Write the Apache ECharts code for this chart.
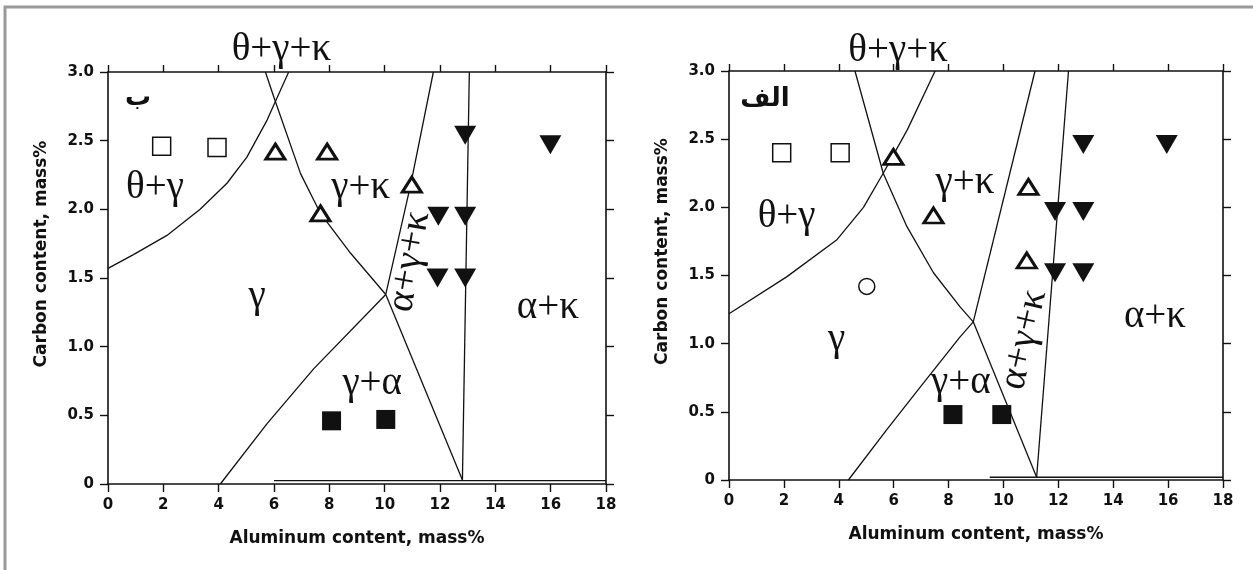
<!DOCTYPE html>
<html>
<head>
<meta charset="utf-8">
<script src="https://cdn.jsdelivr.net/npm/echarts@6/dist/echarts.min.js"></script>
<style>
html,body{margin:0;padding:0;background:#fff;}
#chart{width:1253px;height:570px;}
</style>
</head>
<body>
<div id="chart"></div>
<script>
// ---------- tick labels ----------
const xTickLabels = ['0','2','4','6','8','10','12','14','16','18'];
const yTickLabels = ['0','0.5','1.0','1.5','2.0','2.5','3.0'];
const xAxisTitle = 'Aluminum content, mass%';
const yAxisTitle = 'Carbon content, mass%';

// ---------- left panel (ب) : phase boundaries ----------
const bThetaGamma = [[0,1.57],[0.92,1.67],[2.13,1.81],[3.33,2.0],[4.30,2.19],[5.02,2.38],[5.75,2.65],[6.53,3.0]];
const bKappaUpper = [[5.69,3.0],[5.99,2.82],[6.96,2.26],[7.68,1.97],[8.77,1.68],[10.04,1.38]];
const bKappaLower = [[10.04,1.38],[12.81,0.03]];
const bAlphaLower = [[4.06,0],[5.75,0.44],[7.44,0.84],[10.04,1.38]];
const bAgkLeft    = [[10.04,1.38],[10.94,2.18],[11.76,3.0]];
const bAgkRight   = [[12.81,0.03],[13.06,3.0]];
const bBase       = [[6.0,0.025],[18,0.025]];
// left panel markers
const bOpenSquare   = [[1.94,2.46],[3.94,2.45]];
const bOpenTriangle = [[6.05,2.42],[7.92,2.42],[7.68,1.97],[10.98,2.18]];
const bFilledDown   = [[12.91,2.54],[15.99,2.47],[11.94,1.95],[12.91,1.95],[11.91,1.50],[12.91,1.50]];
const bFilledSquare = [[8.08,0.46],[10.04,0.47]];
// left panel region labels [text, x, y, rotate]
const bRegionLabels = [
  ['θ+γ+κ',6.27,3.16,0],['θ+γ',1.70,2.16,0],['γ+κ',9.13,2.16,0],['γ',5.39,1.36,0],
  ['α+γ+κ',10.9,1.62,80],['α+κ',15.9,1.28,0],['γ+α',9.55,0.73,0]
];
const bPanelTag = ['ب',1.09,2.81];

// ---------- right panel (الف) : phase boundaries ----------
const aThetaGamma = [[0,1.22],[2.1,1.49],[3.92,1.76],[4.9,2.0],[5.62,2.25],[6.5,2.57],[7.51,3.0]];
const aKappaUpper = [[4.59,3.0],[5.62,2.25],[6.48,1.86],[7.45,1.52],[8.42,1.27],[8.9,1.16]];
const aKappaLower = [[8.9,1.16],[11.21,0.02]];
const aAlphaLower = [[4.35,0],[5.75,0.37],[6.96,0.68],[8.42,1.05],[8.9,1.16]];
const aAgkLeft    = [[8.9,1.16],[11.15,3.0]];
const aAgkRight   = [[11.21,0.02],[12.37,3.0]];
const aBase       = [[9.5,0.02],[18,0.02]];
// right panel markers
const aOpenSquare   = [[1.92,2.40],[4.05,2.40]];
const aOpenTriangle = [[5.99,2.37],[7.45,1.94],[10.91,2.15],[10.85,1.61]];
const aOpenCircle   = [[5.02,1.42]];
const aFilledDown   = [[12.91,2.46],[15.95,2.46],[11.88,1.97],[12.91,1.97],[11.88,1.52],[12.91,1.52]];
const aFilledSquare = [[8.16,0.48],[9.94,0.48]];
const aRegionLabels = [
  ['θ+γ+κ',6.16,3.15,0],['θ+γ',2.10,1.93,0],['γ+κ',8.6,2.18,0],['γ',3.92,1.03,0],
  ['α+γ+κ',10.75,1.03,77],['α+κ',15.52,1.2,0],['γ+α',8.45,0.71,0]
];
const aPanelTag = ['الف',1.31,2.79];

// ---------- build ----------
const INK = '#111';
const axisFont = {fontFamily:'DejaVu Sans', fontWeight:'bold', fontSize:15, color:'#111'};
const nameFont = {fontFamily:'DejaVu Sans', fontWeight:'bold', fontSize:17, color:'#111'};

const grids = [
  {left:108, top:72, width:498, height:412},
  {left:729, top:71, width:494, height:409}
];

const xAxes = [], yAxes = [];
grids.forEach((g, gi) => {
  xAxes.push({
    gridIndex: gi, type:'value', min:0, max:18, interval:2, position:'bottom',
    axisLine:{onZero:false, lineStyle:{color:INK, width:1.6}},
    axisTick:{inside:false, length:8, lineStyle:{color:INK, width:1.4}},
    axisLabel:{...axisFont, margin:14, formatter:(v)=>xTickLabels[Math.round(v/2)]},
    splitLine:{show:false},
    name:xAxisTitle, nameLocation:'middle', nameGap:46, nameTextStyle:nameFont
  });
  xAxes.push({
    gridIndex: gi, type:'value', min:0, max:18, interval:2, position:'top',
    axisLine:{onZero:false, lineStyle:{color:INK, width:1.6}},
    axisTick:{inside:false, length:7, lineStyle:{color:INK, width:1.4}},
    axisLabel:{show:false}, splitLine:{show:false}
  });
  yAxes.push({
    gridIndex: gi, type:'value', min:0, max:3, interval:0.5, position:'left',
    axisLine:{onZero:false, lineStyle:{color:INK, width:1.6}},
    axisTick:{inside:false, length:8, lineStyle:{color:INK, width:1.4}},
    axisLabel:{...axisFont, margin:14, formatter:(v)=>yTickLabels[Math.round(v*2)]},
    splitLine:{show:false},
    name:yAxisTitle, nameLocation:'middle', nameGap:58, nameRotate:90,
    nameTextStyle:{...nameFont, padding:[0,0,0,48]}
  });
  yAxes.push({
    gridIndex: gi, type:'value', min:0, max:3, interval:0.5, position:'right',
    axisLine:{onZero:false, lineStyle:{color:INK, width:1.6}},
    axisTick:{inside:false, length:8, lineStyle:{color:INK, width:1.4}},
    axisLabel:{show:false}, splitLine:{show:false}
  });
});

function boundary(data, ax){
  return {type:'line', xAxisIndex:ax, yAxisIndex:ax, data:data, showSymbol:false, symbol:'none',
    smooth:false, silent:true, z:2, lineStyle:{color:INK, width:1.3}};
}
function markers(data, ax, kind){
  const s = {type:'scatter', xAxisIndex:ax, yAxisIndex:ax, data:data, silent:true, z:5, clip:false};
  if (kind==='openSquare'){ s.symbol='rect'; s.symbolSize=18; s.itemStyle={color:'#fff', borderColor:INK, borderWidth:1.5}; }
  if (kind==='openTri'){ s.symbol='triangle'; s.symbolSize=[19,15]; s.itemStyle={color:'#fff', borderColor:INK, borderWidth:3}; }
  if (kind==='openCircle'){ s.symbol='circle'; s.symbolSize=16; s.itemStyle={color:'#fff', borderColor:INK, borderWidth:1.5}; }
  if (kind==='filledDown'){ s.symbol='triangle'; s.symbolSize=[22,19]; s.symbolRotate=180; s.itemStyle={color:INK}; }
  if (kind==='filledSquare'){ s.symbol='rect'; s.symbolSize=19; s.itemStyle={color:INK}; }
  s.itemStyle.opacity = 1;
  return s;
}
function regionLabels(list, ax){
  return {type:'scatter', xAxisIndex:ax, yAxisIndex:ax, symbolSize:0, silent:true, clip:false, z:6,
    itemStyle:{opacity:1},
    data:list.map(l=>({name:l[0], value:[l[1],l[2]], label:{rotate:l[3]}})),
    label:{show:true, position:'inside', formatter:'{b}', fontFamily:'Liberation Serif', fontSize:39, color:INK}};
}
function tag(t, ax){
  return {type:'scatter', xAxisIndex:ax, yAxisIndex:ax, symbolSize:0, silent:true, clip:false, z:6,
    itemStyle:{opacity:1},
    data:[{name:t[0], value:[t[1],t[2]]}],
    label:{show:true, position:'inside', formatter:'{b}', fontFamily:'DejaVu Sans', fontWeight:'bold', fontSize:26, color:INK}};
}

const series = [
  boundary(bThetaGamma,0), boundary(bKappaUpper,0), boundary(bKappaLower,0),
  boundary(bAlphaLower,0), boundary(bAgkLeft,0), boundary(bAgkRight,0), boundary(bBase,0),
  markers(bOpenSquare,0,'openSquare'), markers(bOpenTriangle,0,'openTri'),
  markers(bFilledDown,0,'filledDown'), markers(bFilledSquare,0,'filledSquare'),
  regionLabels(bRegionLabels,0), tag(bPanelTag,0),
  boundary(aThetaGamma,2), boundary(aKappaUpper,2), boundary(aKappaLower,2),
  boundary(aAlphaLower,2), boundary(aAgkLeft,2), boundary(aAgkRight,2), boundary(aBase,2),
  markers(aOpenSquare,2,'openSquare'), markers(aOpenTriangle,2,'openTri'), markers(aOpenCircle,2,'openCircle'),
  markers(aFilledDown,2,'filledDown'), markers(aFilledSquare,2,'filledSquare'),
  regionLabels(aRegionLabels,2), tag(aPanelTag,2)
];

const chart = echarts.init(document.getElementById('chart'), null, {renderer:'canvas'});
chart.setOption({
  backgroundColor:'#fff',
  animation:false,
  graphic:[{type:'rect', shape:{x:5, y:7, width:1270, height:590}, style:{fill:'none', stroke:'#9a9a9a', lineWidth:3}, silent:true, z:-1}],
  grid:grids, xAxis:xAxes, yAxis:yAxes, series:series
});
</script>
</body>
</html>
